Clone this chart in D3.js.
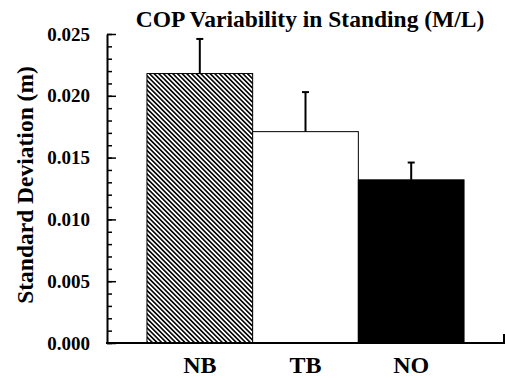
<!DOCTYPE html>
<html>
<head>
<meta charset="utf-8">
<script src="https://cdn.jsdelivr.net/npm/d3@7"></script>
<style>
  body { margin: 0; background: #fff; }
  text { font-family: "Times New Roman", "Liberation Serif", serif; font-weight: bold; }
</style>
</head>
<body>
<svg width="505" height="378"></svg>
<script>
// COP variability, M/L direction, standing
const groups = ["NB", "TB", "NO"];
const means = [0.0218, 0.0171, 0.0132];
const sds = [0.0028, 0.0032, 0.0014];
const yTicks = [0, 0.005, 0.01, 0.015, 0.02, 0.025];
const fills = ["url(#hatch)", "#fff", "#000"];

var svg = d3.select("svg"),
  mLeft = 107,
  mRight = 504,
  mTop = 34,
  mBottom = 343;

var defs = svg.append("defs");
var pat = defs
  .append("pattern")
  .attr("id", "hatch")
  .attr("patternUnits", "userSpaceOnUse")
  .attr("width", 3.3)
  .attr("height", 10)
  .attr("patternTransform", "rotate(-45)");
pat.append("rect").attr("width", 3.3).attr("height", 10).attr("fill", "#fff");
pat
  .append("line")
  .attr("x1", 0.8).attr("x2", 0.8)
  .attr("y1", 0).attr("y2", 10)
  .attr("stroke", "#000")
  .attr("stroke-width", 1.6);

var x = d3
  .scaleBand()
  .domain(groups)
  .range([mLeft, mRight])
  .paddingInner(0)
  .paddingOuter(0.378);

var y = d3.scaleLinear().domain([0, 0.025]).range([mBottom, mTop]);

// bars
svg
  .selectAll(".bar")
  .data(groups)
  .enter()
  .append("rect")
  .attr("class", "bar")
  .attr("x", d => x(d))
  .attr("y", (d, i) => y(means[i]))
  .attr("width", x.bandwidth())
  .attr("height", (d, i) => y(0) - y(means[i]))
  .attr("fill", (d, i) => fills[i])
  .attr("stroke", "#000")
  .attr("stroke-width", 1);

// error bars (upper only)
var eb = svg.selectAll(".err").data(groups).enter().append("g").attr("class", "err");
eb.append("line")
  .attr("x1", d => x(d) + x.bandwidth() / 2)
  .attr("x2", d => x(d) + x.bandwidth() / 2)
  .attr("y1", (d, i) => y(means[i]))
  .attr("y2", (d, i) => y(means[i] + sds[i]))
  .attr("stroke", "#000")
  .attr("stroke-width", 2);
eb.append("line")
  .attr("x1", d => x(d) + x.bandwidth() / 2 - 3.5)
  .attr("x2", d => x(d) + x.bandwidth() / 2 + 3.5)
  .attr("y1", (d, i) => y(means[i] + sds[i]))
  .attr("y2", (d, i) => y(means[i] + sds[i]))
  .attr("stroke", "#000")
  .attr("stroke-width", 2);

// minor ticks
svg
  .append("g")
  .attr("transform", "translate(" + mLeft + ",0)")
  .call(
    d3.axisLeft(y)
      .tickValues(d3.range(0, 26).map(v => v / 1000))
      .tickSizeInner(-5)
      .tickSizeOuter(0)
      .tickFormat("")
  )
  .call(g => g.select(".domain").remove())
  .selectAll("line")
  .attr("stroke-width", 1.5);

// y axis with major ticks
var yAxis = svg
  .append("g")
  .attr("transform", "translate(" + mLeft + ",0)")
  .call(
    d3.axisLeft(y)
      .tickValues(yTicks)
      .tickSizeInner(-9)
      .tickSizeOuter(0)
      .tickPadding(17)
      .tickFormat(d3.format(".3f"))
  );
yAxis.select(".domain").attr("stroke-width", 2);
yAxis.selectAll(".tick line").attr("stroke-width", 1.5);
yAxis.selectAll("text").style("font-size", "19px").attr("fill", "#000");

// x axis line with end tick
svg
  .append("path")
  .attr("d", "M" + (mLeft - 1) + "," + y(0) + "H" + x.range()[1] + "V" + (y(0) - 9))
  .attr("fill", "none")
  .attr("stroke", "#000")
  .attr("stroke-width", 2);

// category labels
svg
  .selectAll(".xlab")
  .data(groups)
  .enter()
  .append("text")
  .attr("class", "xlab")
  .attr("x", d => x(d) + x.bandwidth() / 2)
  .attr("y", 373)
  .attr("text-anchor", "middle")
  .style("font-size", "24px")
  .text(d => d);

svg
  .append("text")
  .attr("x", 310)
  .attr("y", 27)
  .attr("text-anchor", "middle")
  .style("font-size", "23.5px")
  .text("COP Variability in Standing (M/L)");

svg
  .append("text")
  .attr("transform", "translate(33,185) rotate(-90)")
  .attr("text-anchor", "middle")
  .style("font-size", "23.5px")
  .text("Standard Deviation (m)");
</script>
</body>
</html>
